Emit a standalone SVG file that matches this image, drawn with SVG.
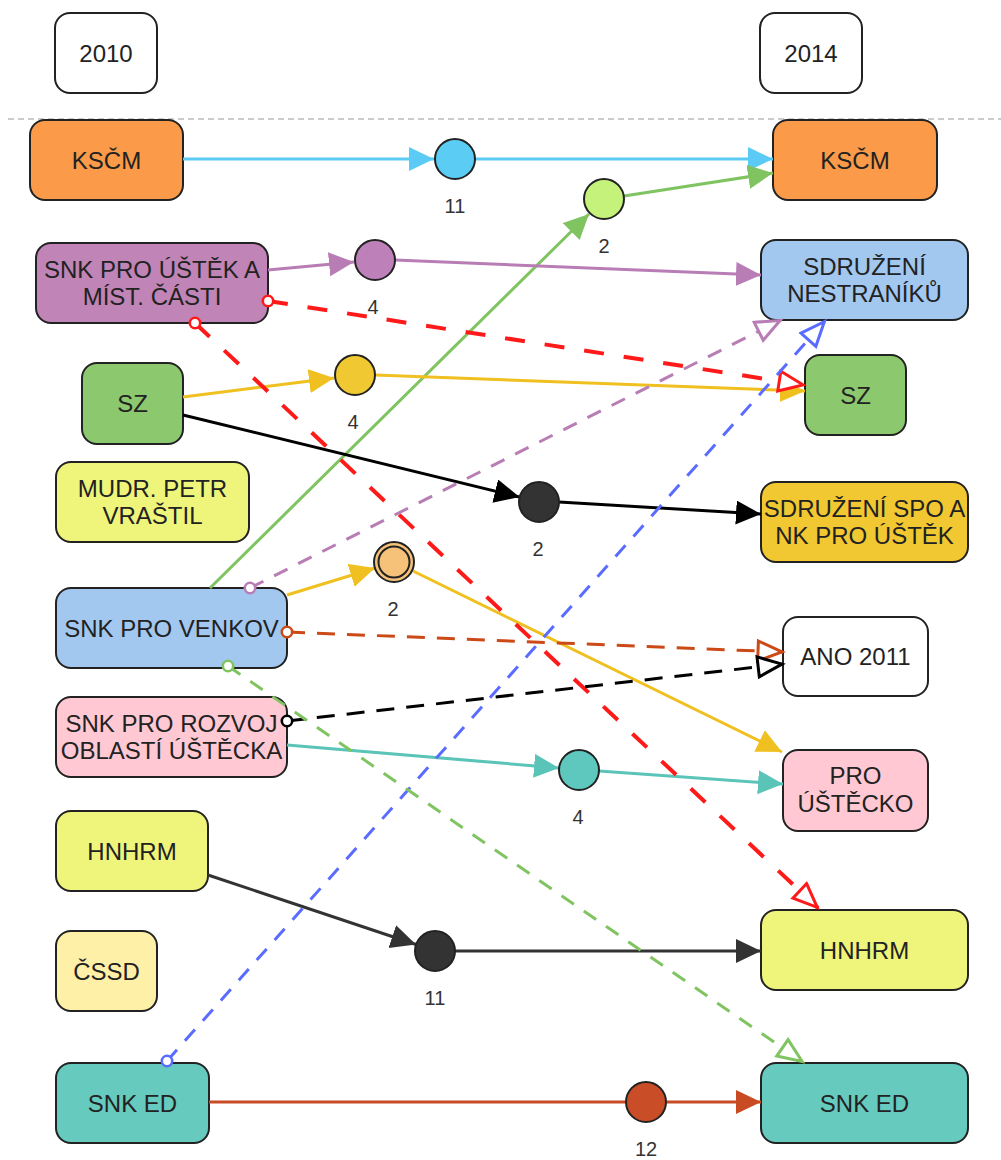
<svg xmlns="http://www.w3.org/2000/svg" width="1001" height="1160" viewBox="0 0 1001 1160">
<defs>
<style>
.box{stroke:#222;stroke-width:2}
.t{font-family:"Liberation Sans",Arial,sans-serif;font-size:24px;fill:#222;text-anchor:middle}
.n{font-family:"Liberation Sans",Arial,sans-serif;font-size:20px;fill:#333;text-anchor:middle}
.j{stroke:#222;stroke-width:2}
.c{fill:none;stroke-width:3}
.d{fill:none;stroke-width:3;stroke-dasharray:15 12}
.dl{fill:none;stroke-width:3;stroke-dasharray:18 12}
.dr{fill:none;stroke-width:4;stroke-dasharray:20 20}
</style>
<marker id="aLB" markerUnits="userSpaceOnUse" markerWidth="26" markerHeight="26" refX="25" refY="12" orient="auto"><path d="M0,0 L25,12 L0,24 Z" fill="#5BCBF5"/></marker>
<marker id="aGR" markerUnits="userSpaceOnUse" markerWidth="26" markerHeight="26" refX="25" refY="12" orient="auto"><path d="M0,0 L25,12 L0,24 Z" fill="#80C462"/></marker>
<marker id="aPU" markerUnits="userSpaceOnUse" markerWidth="26" markerHeight="26" refX="25" refY="12" orient="auto"><path d="M0,0 L25,12 L0,24 Z" fill="#B87DB5"/></marker>
<marker id="aYE" markerUnits="userSpaceOnUse" markerWidth="26" markerHeight="26" refX="25" refY="12" orient="auto"><path d="M0,0 L25,12 L0,24 Z" fill="#F0C020"/></marker>
<marker id="aBK" markerUnits="userSpaceOnUse" markerWidth="26" markerHeight="26" refX="25" refY="12" orient="auto"><path d="M0,0 L25,12 L0,24 Z" fill="#000"/></marker>
<marker id="aDK" markerUnits="userSpaceOnUse" markerWidth="26" markerHeight="26" refX="25" refY="12" orient="auto"><path d="M0,0 L25,12 L0,24 Z" fill="#333"/></marker>
<marker id="aTE" markerUnits="userSpaceOnUse" markerWidth="26" markerHeight="26" refX="25" refY="12" orient="auto"><path d="M0,0 L25,12 L0,24 Z" fill="#5BC4B8"/></marker>
<marker id="aRU" markerUnits="userSpaceOnUse" markerWidth="26" markerHeight="26" refX="25" refY="12" orient="auto"><path d="M0,0 L25,12 L0,24 Z" fill="#C84B24"/></marker>
<marker id="oRE" markerUnits="userSpaceOnUse" markerWidth="30" markerHeight="26" refX="27" refY="12" orient="auto"><path d="M2,2 L26,12 L2,22 Z" fill="#fff" stroke="#FF1A1A" stroke-width="3"/></marker>
<marker id="oPU" markerUnits="userSpaceOnUse" markerWidth="30" markerHeight="26" refX="27" refY="12" orient="auto"><path d="M2,2 L26,12 L2,22 Z" fill="#fff" stroke="#B87DB5" stroke-width="3"/></marker>
<marker id="oBL" markerUnits="userSpaceOnUse" markerWidth="30" markerHeight="26" refX="27" refY="12" orient="auto"><path d="M2,2 L26,12 L2,22 Z" fill="#fff" stroke="#5A6CFF" stroke-width="3"/></marker>
<marker id="oRU" markerUnits="userSpaceOnUse" markerWidth="30" markerHeight="26" refX="27" refY="12" orient="auto"><path d="M2,2 L26,12 L2,22 Z" fill="#fff" stroke="#CC4A18" stroke-width="3"/></marker>
<marker id="oBK" markerUnits="userSpaceOnUse" markerWidth="30" markerHeight="26" refX="27" refY="12" orient="auto"><path d="M2,2 L26,12 L2,22 Z" fill="#fff" stroke="#000" stroke-width="3"/></marker>
<marker id="oGR" markerUnits="userSpaceOnUse" markerWidth="30" markerHeight="26" refX="27" refY="12" orient="auto"><path d="M2,2 L26,12 L2,22 Z" fill="#fff" stroke="#80C462" stroke-width="3"/></marker>
<marker id="sRE" markerUnits="userSpaceOnUse" markerWidth="16" markerHeight="16" refX="8" refY="8"><circle cx="8" cy="8" r="5.2" fill="#fff" stroke="#FF1A1A" stroke-width="2.6"/></marker>
<marker id="sPU" markerUnits="userSpaceOnUse" markerWidth="16" markerHeight="16" refX="8" refY="8"><circle cx="8" cy="8" r="5.2" fill="#fff" stroke="#B87DB5" stroke-width="2.6"/></marker>
<marker id="sBL" markerUnits="userSpaceOnUse" markerWidth="16" markerHeight="16" refX="8" refY="8"><circle cx="8" cy="8" r="5.2" fill="#fff" stroke="#5A6CFF" stroke-width="2.6"/></marker>
<marker id="sRU" markerUnits="userSpaceOnUse" markerWidth="16" markerHeight="16" refX="8" refY="8"><circle cx="8" cy="8" r="5.2" fill="#fff" stroke="#CC4A18" stroke-width="2.6"/></marker>
<marker id="sBK" markerUnits="userSpaceOnUse" markerWidth="16" markerHeight="16" refX="8" refY="8"><circle cx="8" cy="8" r="5.2" fill="#fff" stroke="#000" stroke-width="2.6"/></marker>
<marker id="sGR" markerUnits="userSpaceOnUse" markerWidth="16" markerHeight="16" refX="8" refY="8"><circle cx="8" cy="8" r="5.2" fill="#fff" stroke="#80C462" stroke-width="2.6"/></marker>
</defs>
<rect x="0" y="0" width="1001" height="1160" fill="#fff"/>
<line x1="8" y1="119" x2="1001" y2="119" stroke="#BBB" stroke-width="1.5" stroke-dasharray="6 4"/>

<g id="boxes">
<g id="y2010"><rect class="box" x="55" y="13" width="102" height="80" rx="15" fill="#fff"/><text class="t" x="106" y="61.5">2010</text></g>
<g id="y2014"><rect class="box" x="760" y="13" width="102" height="80" rx="15" fill="#fff"/><text class="t" x="811" y="61.5">2014</text></g>
<g id="kscm-2010"><rect class="box" x="30" y="120" width="153" height="80" rx="15" fill="#FB9A48"/><text class="t" x="106.5" y="168.5">KSČM</text></g>
<g id="kscm-2014"><rect class="box" x="773" y="120" width="164" height="80" rx="15" fill="#FB9A48"/><text class="t" x="855" y="168.5">KSČM</text></g>
<g id="snk-ustek"><rect class="box" x="36" y="243" width="232" height="80" rx="15" fill="#C084B6"/><text class="t" x="152" y="277.5">SNK PRO ÚŠTĚK A</text><text class="t" x="152" y="305">MÍST. ČÁSTI</text></g>
<g id="sdruzeni-nestraniku"><rect class="box" x="761" y="240" width="207" height="80" rx="15" fill="#A2C8F0"/><text class="t" x="864.5" y="274.5">SDRUŽENÍ</text><text class="t" x="864.5" y="302">NESTRANÍKŮ</text></g>
<g id="sz-2010"><rect class="box" x="82" y="363" width="101" height="81" rx="15" fill="#8CC86E"/><text class="t" x="132.5" y="412">SZ</text></g>
<g id="sz-2014"><rect class="box" x="805" y="355" width="101" height="80" rx="15" fill="#8CC86E"/><text class="t" x="855.5" y="403.5">SZ</text></g>
<g id="mudr"><rect class="box" x="56" y="462" width="193" height="80" rx="15" fill="#EEF57A"/><text class="t" x="152.5" y="496.5">MUDR. PETR</text><text class="t" x="152.5" y="524">VRAŠTIL</text></g>
<g id="sdruzeni-spo"><rect class="box" x="761" y="482" width="207" height="80" rx="15" fill="#F2C832"/><text class="t" x="864.5" y="516.5">SDRUŽENÍ SPO A</text><text class="t" x="864.5" y="544">NK PRO ÚŠTĚK</text></g>
<g id="snk-venkov"><rect class="box" x="56" y="588" width="231" height="80" rx="15" fill="#A2C8F0"/><text class="t" x="171.5" y="636.5">SNK PRO VENKOV</text></g>
<g id="ano"><rect class="box" x="783" y="617" width="145" height="79" rx="15" fill="#fff"/><text class="t" x="855.5" y="665">ANO 2011</text></g>
<g id="snk-rozvoj"><rect class="box" x="56" y="697" width="231" height="80" rx="15" fill="#FFC8D3"/><text class="t" x="171.5" y="731.5">SNK PRO ROZVOJ</text><text class="t" x="171.5" y="759">OBLASTÍ ÚŠTĚCKA</text></g>
<g id="pro-ustecko"><rect class="box" x="783" y="750" width="145" height="81" rx="15" fill="#FFC8D3"/><text class="t" x="855.5" y="784">PRO</text><text class="t" x="855.5" y="811.5">ÚŠTĚCKO</text></g>
<g id="hnhrm-2010"><rect class="box" x="56" y="811" width="152" height="80" rx="15" fill="#EEF57A"/><text class="t" x="132" y="859.5">HNHRM</text></g>
<g id="hnhrm-2014"><rect class="box" x="761" y="910" width="207" height="80" rx="15" fill="#EEF57A"/><text class="t" x="864.5" y="958.5">HNHRM</text></g>
<g id="cssd"><rect class="box" x="56" y="931" width="101" height="80" rx="15" fill="#FFF0A8"/><text class="t" x="106.5" y="979.5">ČSSD</text></g>
<g id="snk-ed-2010"><rect class="box" x="56" y="1063" width="153" height="80" rx="15" fill="#66CABE"/><text class="t" x="132.5" y="1111.5">SNK ED</text></g>
<g id="snk-ed-2014"><rect class="box" x="761" y="1063" width="207" height="80" rx="15" fill="#66CABE"/><text class="t" x="864.5" y="1111.5">SNK ED</text></g>
</g>

<g id="connectors">
<line class="c" stroke="#5BCBF5" x1="183" y1="159" x2="434" y2="159" marker-end="url(#aLB)"/>
<line class="c" stroke="#5BCBF5" x1="475" y1="159" x2="773" y2="159" marker-end="url(#aLB)"/>
<line class="c" stroke="#80C462" x1="210" y1="588" x2="589" y2="214" marker-end="url(#aGR)"/>
<line class="c" stroke="#80C462" x1="624" y1="196" x2="773" y2="173" marker-end="url(#aGR)"/>
<line class="c" stroke="#B87DB5" x1="268" y1="270" x2="354" y2="262" marker-end="url(#aPU)"/>
<line class="c" stroke="#B87DB5" x1="395" y1="260" x2="761" y2="275" marker-end="url(#aPU)"/>
<line class="c" stroke="#F0C020" x1="183" y1="397" x2="334" y2="378" marker-end="url(#aYE)"/>
<line class="c" stroke="#F0C020" x1="375" y1="375" x2="805" y2="391" marker-end="url(#aYE)"/>
<line class="c" stroke="#000" x1="183" y1="415" x2="519.5" y2="497" marker-end="url(#aBK)"/>
<line class="c" stroke="#000" x1="559" y1="502" x2="761" y2="514" marker-end="url(#aBK)"/>
<line class="c" stroke="#F0C020" x1="287" y1="595" x2="375" y2="568" marker-end="url(#aYE)"/>
<line class="c" stroke="#F0C020" x1="413" y1="571" x2="782" y2="752" marker-end="url(#aYE)"/>
<line class="c" stroke="#5BC4B8" x1="287" y1="745" x2="559" y2="768" marker-end="url(#aTE)"/>
<line class="c" stroke="#5BC4B8" x1="599" y1="771" x2="783" y2="784" marker-end="url(#aTE)"/>
<line class="c" stroke="#333" x1="208" y1="875" x2="416" y2="944.5" marker-end="url(#aDK)"/>
<line class="c" stroke="#333" x1="455" y1="951" x2="761" y2="951" marker-end="url(#aDK)"/>
<line class="c" stroke="#C84B24" x1="209" y1="1102" x2="626" y2="1102"/>
<line class="c" stroke="#C84B24" x1="666" y1="1102" x2="761" y2="1102" marker-end="url(#aRU)"/>
<line class="dr" stroke="#FF1A1A" x1="268" y1="301" x2="804" y2="385" marker-start="url(#sRE)" marker-end="url(#oRE)"/>
<line class="dr" stroke="#FF1A1A" x1="195" y1="323" x2="818" y2="908" marker-start="url(#sRE)" marker-end="url(#oRE)"/>
<line class="d" stroke="#B87DB5" x1="250" y1="588" x2="781" y2="320" marker-start="url(#sPU)" marker-end="url(#oPU)"/>
<line class="d" stroke="#5A6CFF" x1="167" y1="1061" x2="825" y2="321" marker-start="url(#sBL)" marker-end="url(#oBL)"/>
<line class="dl" stroke="#CC4A18" x1="287" y1="632" x2="783" y2="652" marker-start="url(#sRU)" marker-end="url(#oRU)"/>
<line class="dl" stroke="#000" x1="287" y1="721" x2="783" y2="664" marker-start="url(#sBK)" marker-end="url(#oBK)"/>
<line class="d" stroke="#80C462" x1="228" y1="666" x2="803" y2="1062" marker-start="url(#sGR)" marker-end="url(#oGR)"/>
</g>

<g id="j-kscm"><circle class="j" cx="455" cy="159" r="20" fill="#5BCDF5"/><text class="n" x="455" y="213">11</text></g>
<g id="j-green"><circle class="j" cx="604" cy="199" r="20" fill="#C5F27A"/><text class="n" x="604" y="253">2</text></g>
<g id="j-purple"><circle class="j" cx="375" cy="260" r="20" fill="#BE80B8"/><text class="n" x="373" y="314">4</text></g>
<g id="j-yellow"><circle class="j" cx="355" cy="375" r="20" fill="#F0C832"/><text class="n" x="353" y="429">4</text></g>
<g id="j-black"><circle class="j" cx="539" cy="502" r="20" fill="#333"/><text class="n" x="538" y="556">2</text></g>
<g id="j-orange"><circle class="j" cx="394" cy="562" r="20" fill="#F6C27A"/><circle class="j" cx="394" cy="562" r="15.5" fill="none"/><text class="n" x="393" y="616">2</text></g>
<g id="j-teal"><circle class="j" cx="579" cy="770" r="20" fill="#5EC8BE"/><text class="n" x="578" y="824">4</text></g>
<g id="j-hnhrm"><circle class="j" cx="435" cy="951" r="20" fill="#333"/><text class="n" x="435" y="1005">11</text></g>
<g id="j-ed"><circle class="j" cx="646" cy="1102" r="20" fill="#C94D26"/><text class="n" x="646" y="1156">12</text></g>
</svg>
